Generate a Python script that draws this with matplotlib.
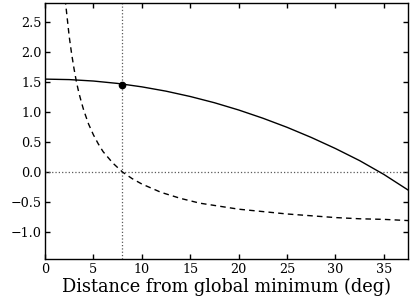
import matplotlib
matplotlib.use("Agg")
import matplotlib.pyplot as plt

plt.rcParams['font.family'] = ['DejaVu Serif']

# solid curve
x_solid = [0, 2.5, 5, 7.5, 10, 12.5, 15, 17.5, 20, 22.5, 25, 27.5, 30, 32.5, 35, 37.5]
y_solid = [1.55, 1.542, 1.518, 1.478, 1.421, 1.349, 1.260, 1.156, 1.035, 0.898,
           0.746, 0.577, 0.392, 0.19, -0.04, -0.30]

# dashed curve
x_dash = [2.0, 2.25, 2.5, 2.75, 3, 3.25, 3.5, 3.75, 4, 4.5, 5, 5.5, 6, 7, 8, 9, 10,
          12, 14, 16, 18, 20, 22.5, 25, 27.5, 30, 32.5, 35, 37.5]
y_dash = [3.0, 2.63, 2.26, 1.97, 1.72, 1.50, 1.32, 1.17, 1.03, 0.80, 0.62, 0.47, 0.34,
          0.15, 0.0, -0.11, -0.20, -0.34, -0.44, -0.52, -0.57, -0.62, -0.66, -0.70,
          -0.73, -0.76, -0.78, -0.79, -0.81]

x_mark = 8
y_mark = 1.46

fig = plt.figure(figsize=(4.13, 2.99), dpi=100)
ax = fig.add_axes([0.109, 0.134, 0.879, 0.856])

ax.axvline(x_mark, color='0.35', ls=':', lw=0.9)
ax.axhline(0, color='0.35', ls=':', lw=0.9)
ax.plot(x_solid, y_solid, color='k', lw=1.0)
ax.plot(x_dash, y_dash, color='k', lw=1.0, ls='--', dashes=(4, 3))
ax.plot([x_mark], [y_mark], 'o', color='k', ms=4.5)

ax.set_xlim(0, 37.5)
ax.set_ylim(-1.45, 2.82)
ax.set_xticks([0, 5, 10, 15, 20, 25, 30, 35])
ax.set_yticks([-1.0, -0.5, 0.0, 0.5, 1.0, 1.5, 2.0, 2.5])
ax.tick_params(direction='in', top=True, right=True, length=3.5, width=1,
               labelsize=9.2)
ax.tick_params(axis='x', pad=3)
ax.tick_params(axis='y', pad=2.5)
for s in ax.spines.values():
    s.set_linewidth(1.0)

ax.set_xlabel('Distance from global minimum (deg)', fontsize=12.8, labelpad=1)

fig.savefig('out.png', dpi=100)
